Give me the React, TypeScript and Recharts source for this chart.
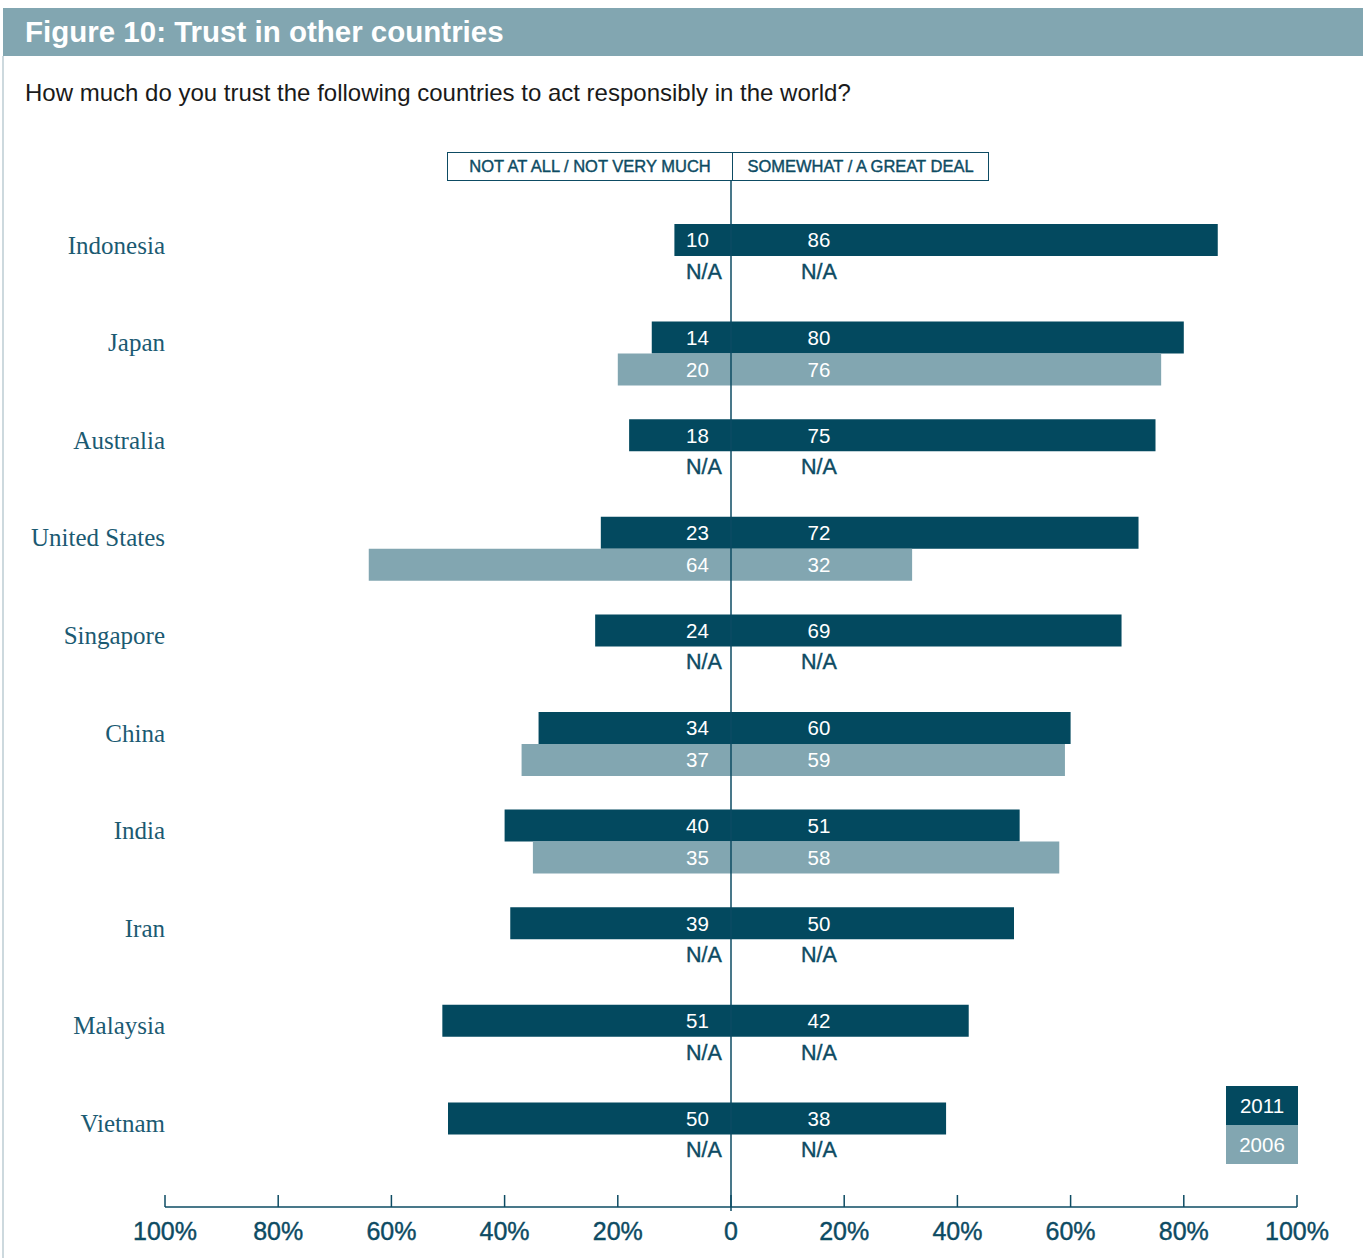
import React from "react";
import {
  Bar,
  BarChart,
  LabelList,
  ReferenceLine,
  XAxis,
  YAxis,
} from "recharts";

// survey answers, % of respondents
const countries = [
  "Indonesia",
  "Japan",
  "Australia",
  "United States",
  "Singapore",
  "China",
  "India",
  "Iran",
  "Malaysia",
  "Vietnam",
];
const distrust2011 = [10, 14, 18, 23, 24, 34, 40, 39, 51, 50];
const trust2011 = [86, 80, 75, 72, 69, 60, 51, 50, 42, 38];
// null = not asked in 2006
const distrust2006 = [null, 20, null, 64, null, 37, 35, null, null, null];
const trust2006 = [null, 76, null, 32, null, 59, 58, null, null, null];

const axisTicks = [-100, -80, -60, -40, -20, 0, 20, 40, 60, 80, 100];

const DARK = "#03495f";
const LIGHT = "#82a6b1";
const TEAL = "#0d4b63";
const SANS = "'Liberation Sans', Arial, Helvetica, sans-serif";
const SERIF = "'Liberation Serif', 'Times New Roman', serif";

const rows = countries.map((country, i) => ({
  country,
  neg11: -distrust2011[i],
  pos11: trust2011[i],
  neg06: distrust2006[i] == null ? 0 : -(distrust2006[i] as number),
  pos06: trust2006[i] == null ? 0 : (trust2006[i] as number),
}));

// left labels start 45px left of zero, right labels are centred 88px right of it
function labelText(zero: number, cy: number, side: "neg" | "pos", text: string, fill: string) {
  const na = text === "N/A";
  return (
    <text
      x={side === "neg" ? zero - 45 : zero + 88}
      y={cy}
      dy="0.36em"
      textAnchor={side === "neg" ? "start" : "middle"}
      fill={fill}
      stroke={na ? fill : "none"}
      strokeWidth={na ? 0.4 : 0}
      fontFamily={SANS}
      fontSize={na ? 21.5 : 20.5}
    >
      {text}
    </text>
  );
}

// 2011 labels; also writes N/A in the empty 2006 slot underneath
function label2011(side: "neg" | "pos", missing06: (number | null)[]) {
  return (p: any) => {
    const vb = p.viewBox ?? p;
    const x = Number(vb.x);
    const w = Number(vb.width) || 0;
    const h = Number(vb.height);
    const zero = side === "neg" ? Math.max(x, x + w) : Math.min(x, x + w);
    const cy = Number(vb.y) + h / 2;
    const v = Math.abs(Number(p.value));
    return (
      <g>
        {labelText(zero, cy, side, String(v), "#ffffff")}
        {missing06[p.index] == null && labelText(zero, cy + h - 1, side, "N/A", TEAL)}
      </g>
    );
  };
}

function label2006(side: "neg" | "pos") {
  return (p: any) => {
    const vb = p.viewBox ?? p;
    const x = Number(vb.x);
    const w = Number(vb.width) || 0;
    const v = Math.abs(Number(p.value));
    if (!v) return null;
    const zero = side === "neg" ? Math.max(x, x + w) : Math.min(x, x + w);
    const cy = Number(vb.y) + Number(vb.height) / 2;
    return labelText(zero, cy, side, String(v), "#ffffff");
  };
}

const CountryTick = (props: any) => {
  const { x, y, payload } = props;
  return (
    <text
      x={x}
      y={y - 11}
      dy="0.35em"
      textAnchor="end"
      fill="#1b5a72"
      fontFamily={SERIF}
      fontSize={25}
    >
      {payload.value}
    </text>
  );
};

const PercentTick = (props: any) => {
  const { x, y, payload } = props;
  const v = payload.value as number;
  return (
    <g>
      <line
        x1={x}
        x2={x}
        y1={y - 12}
        y2={v === 0 ? y + 4 : y}
        stroke={TEAL}
        strokeWidth={1.5}
      />
      <text
        x={x}
        y={y + 33}
        textAnchor="middle"
        fill={TEAL}
        stroke={TEAL}
        strokeWidth={0.4}
        fontFamily={SANS}
        fontSize={25}
      >
        {v === 0 ? "0" : `${Math.abs(v)}%`}
      </text>
    </g>
  );
};

export default function App() {
  return (
    <div
      style={{
        position: "absolute",
        left: 0,
        top: 0,
        width: 1363,
        height: 1258,
        background: "#fff",
        overflow: "hidden",
        fontFamily: SANS,
      }}
    >
      <div style={{ position: "absolute", left: 0, top: 0 }}>
        <BarChart
          width={1363}
          height={1258}
          data={rows}
          layout="vertical"
          stackOffset="sign"
          barSize={32}
          barGap={0}
          margin={{ top: 180, right: 66, bottom: 0, left: 0 }}
        >
          <XAxis
            type="number"
            domain={[-100, 100]}
            ticks={axisTicks}
            height={51}
            axisLine={{ stroke: TEAL, strokeWidth: 1.5 }}
            tickLine={false}
            tickSize={0}
            tickMargin={0}
            tick={<PercentTick />}
            interval={0}
          />
          <YAxis
            type="category"
            dataKey="country"
            width={165}
            axisLine={false}
            tickLine={false}
            tickSize={0}
            tickMargin={0}
            padding={{ top: 27, bottom: 24 }}
            tick={<CountryTick />}
            interval={0}
          />
          <Bar dataKey="neg11" stackId="y2011" fill={DARK} isAnimationActive={false}>
            <LabelList dataKey="neg11" content={label2011("neg", distrust2006)} />
          </Bar>
          <Bar dataKey="pos11" stackId="y2011" fill={DARK} isAnimationActive={false}>
            <LabelList dataKey="pos11" content={label2011("pos", trust2006)} />
          </Bar>
          <Bar dataKey="neg06" stackId="y2006" fill={LIGHT} isAnimationActive={false}>
            <LabelList dataKey="neg06" content={label2006("neg")} />
          </Bar>
          <Bar dataKey="pos06" stackId="y2006" fill={LIGHT} isAnimationActive={false}>
            <LabelList dataKey="pos06" content={label2006("pos")} />
          </Bar>
          <ReferenceLine x={0} stroke={TEAL} strokeWidth={1.5} />
        </BarChart>
      </div>

      {/* title bar */}
      <div
        style={{
          position: "absolute",
          left: 3,
          top: 8,
          width: 1360,
          height: 48,
          background: LIGHT,
          color: "#fff",
          fontWeight: "bold",
          fontSize: 29.5,
          lineHeight: "48px",
          paddingLeft: 22,
          boxSizing: "border-box",
        }}
      >
        Figure 10: Trust in other countries
      </div>
      <div
        style={{
          position: "absolute",
          left: 2,
          top: 56,
          width: 2,
          height: 1202,
          background: "#cdd9de",
        }}
      />
      <div
        style={{
          position: "absolute",
          left: 25,
          top: 79,
          fontSize: 24,
          lineHeight: "28px",
          color: "#1a1a1a",
          whiteSpace: "nowrap",
        }}
      >
        How much do you trust the following countries to act responsibly in the world?
      </div>

      {/* column headers */}
      <div
        style={{
          position: "absolute",
          left: 447,
          top: 152,
          width: 542,
          height: 29,
          border: `1px solid ${TEAL}`,
          boxSizing: "border-box",
          display: "flex",
          color: TEAL,
          fontSize: 16.5,
          WebkitTextStroke: "0.4px " + TEAL,
        }}
      >
        <div
          style={{
            width: 284,
            borderRight: `1.5px solid ${TEAL}`,
            textAlign: "center",
            lineHeight: "27px",
          }}
        >
          NOT AT ALL / NOT VERY MUCH
        </div>
        <div style={{ flex: 1, textAlign: "center", lineHeight: "27px" }}>
          SOMEWHAT / A GREAT DEAL
        </div>
      </div>

      {/* year legend */}
      <div
        style={{
          position: "absolute",
          left: 1226,
          top: 1086,
          width: 72,
          color: "#fff",
          fontSize: 20.5,
          textAlign: "center",
        }}
      >
        <div style={{ background: DARK, height: 39, lineHeight: "39px" }}>2011</div>
        <div style={{ background: LIGHT, height: 39, lineHeight: "39px" }}>2006</div>
      </div>
    </div>
  );
}
